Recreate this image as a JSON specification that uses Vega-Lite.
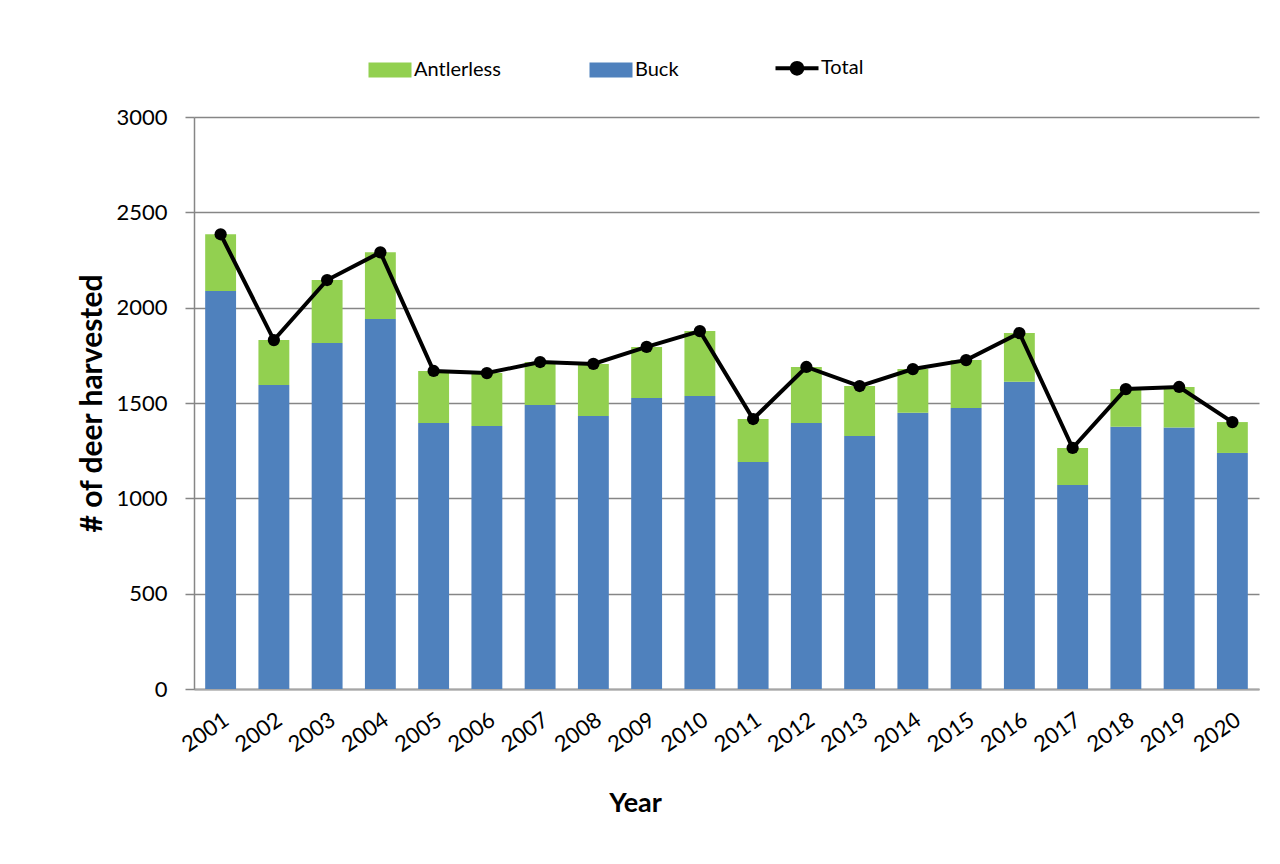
{
  "$schema": "https://vega.github.io/schema/vega-lite/v6.json",
  "width": 1065,
  "height": 572,
  "autosize": {"type": "none"},
  "padding": {"left": 194, "top": 117, "right": 21, "bottom": 175},
  "background": "white",
  "datasets": {
    "bars": [
      {"year": "2001", "type": "Buck", "count": 2088}, {"year": "2001", "type": "Antlerless", "count": 297},
      {"year": "2002", "type": "Buck", "count": 1594}, {"year": "2002", "type": "Antlerless", "count": 236},
      {"year": "2003", "type": "Buck", "count": 1815}, {"year": "2003", "type": "Antlerless", "count": 330},
      {"year": "2004", "type": "Buck", "count": 1940}, {"year": "2004", "type": "Antlerless", "count": 350},
      {"year": "2005", "type": "Buck", "count": 1395}, {"year": "2005", "type": "Antlerless", "count": 273},
      {"year": "2006", "type": "Buck", "count": 1379}, {"year": "2006", "type": "Antlerless", "count": 278},
      {"year": "2007", "type": "Buck", "count": 1490}, {"year": "2007", "type": "Antlerless", "count": 225},
      {"year": "2008", "type": "Buck", "count": 1432}, {"year": "2008", "type": "Antlerless", "count": 273},
      {"year": "2009", "type": "Buck", "count": 1526}, {"year": "2009", "type": "Antlerless", "count": 268},
      {"year": "2010", "type": "Buck", "count": 1537}, {"year": "2010", "type": "Antlerless", "count": 340},
      {"year": "2011", "type": "Buck", "count": 1190}, {"year": "2011", "type": "Antlerless", "count": 226},
      {"year": "2012", "type": "Buck", "count": 1395}, {"year": "2012", "type": "Antlerless", "count": 294},
      {"year": "2013", "type": "Buck", "count": 1327}, {"year": "2013", "type": "Antlerless", "count": 262},
      {"year": "2014", "type": "Buck", "count": 1449}, {"year": "2014", "type": "Antlerless", "count": 229},
      {"year": "2015", "type": "Buck", "count": 1474}, {"year": "2015", "type": "Antlerless", "count": 251},
      {"year": "2016", "type": "Buck", "count": 1611}, {"year": "2016", "type": "Antlerless", "count": 256},
      {"year": "2017", "type": "Buck", "count": 1070}, {"year": "2017", "type": "Antlerless", "count": 194},
      {"year": "2018", "type": "Buck", "count": 1375}, {"year": "2018", "type": "Antlerless", "count": 198},
      {"year": "2019", "type": "Buck", "count": 1372}, {"year": "2019", "type": "Antlerless", "count": 212},
      {"year": "2020", "type": "Buck", "count": 1238}, {"year": "2020", "type": "Antlerless", "count": 162}
    ],
    "totals": [
      {"year": "2001", "total": 2385}, {"year": "2002", "total": 1830}, {"year": "2003", "total": 2145},
      {"year": "2004", "total": 2290}, {"year": "2005", "total": 1668}, {"year": "2006", "total": 1657},
      {"year": "2007", "total": 1715}, {"year": "2008", "total": 1705}, {"year": "2009", "total": 1794},
      {"year": "2010", "total": 1877}, {"year": "2011", "total": 1416}, {"year": "2012", "total": 1689},
      {"year": "2013", "total": 1589}, {"year": "2014", "total": 1678}, {"year": "2015", "total": 1725},
      {"year": "2016", "total": 1867}, {"year": "2017", "total": 1264}, {"year": "2018", "total": 1573},
      {"year": "2019", "total": 1584}, {"year": "2020", "total": 1400}
    ]
  },
  "encoding": {
    "x": {
      "field": "year", "type": "nominal",
      "scale": {"paddingInner": 0.42, "paddingOuter": 0.21},
      "axis": {
        "title": "Year", "labelAngle": -35, "labelFontSize": 22, "labelPadding": 20,
        "ticks": false, "titleFontSize": 27, "titleFontWeight": "bold", "titlePadding": 35,
        "titleX": 441,
        "domainColor": "#a6a6a6", "domainWidth": 2, "labelColor": "#000000", "titleColor": "#000000"
      }
    }
  },
  "layer": [
    {
      "data": {"name": "bars"},
      "mark": {"type": "bar"},
      "encoding": {
        "y": {
          "field": "count", "type": "quantitative", "stack": "zero",
          "scale": {"domain": [0, 3000]},
          "axis": {
            "title": "# of deer harvested", "values": [0, 500, 1000, 1500, 2000, 2500, 3000], "format": "d",
            "labelFontSize": 22, "labelPadding": 18, "tickSize": 9, "tickColor": "#868686", "tickWidth": 1.5,
            "gridColor": "#868686", "gridWidth": 1.5, "domainColor": "#868686", "domainWidth": 1.5,
            "titleFontSize": 30, "titleFontWeight": "bold", "titlePadding": 8,
            "labelColor": "#000000", "titleColor": "#000000"
          }
        },
        "color": {
          "field": "type", "type": "nominal",
          "scale": {"domain": ["Antlerless", "Buck", "Total"], "range": ["#92D050", "#4F81BD", "#000000"]},
          "legend": {
            "orient": "none", "direction": "horizontal", "columns": 3, "title": null,
            "legendX": 186, "legendY": -59,
            "symbolSize": 1849, "labelFontSize": 20, "labelOffset": 14, "columnPadding": 88,
            "labelColor": "#000000",
            "symbolType": "M-1,-0.35H1V0.35H-1Z",
            "encode": {
              "symbols": {
                "update": {
                  "shape": {"signal": "datum.value === 'Total' ? 'M-1,0H1M-0.25,0A0.25,0.25 0 1,0 0.25,0A0.25,0.25 0 1,0 -0.25,0Z' : 'M-1,-0.35H1V0.35H-1Z'"},
                  "fill": {"signal": "scale('color', datum.value)"},
                  "stroke": {"signal": "scale('color', datum.value)"},
                  "strokeWidth": {"signal": "datum.value === 'Total' ? 4 : 0"},
                  "opacity": {"value": 1},
                  "fillOpacity": {"value": 1}
                }
              }
            }
          }
        },
        "order": {"field": "type", "sort": "descending"}
      }
    },
    {
      "data": {"name": "totals"},
      "mark": {"type": "line", "color": "#000000", "strokeWidth": 4},
      "encoding": {
        "y": {"field": "total", "type": "quantitative"},
        "color": {"datum": "Total"}
      }
    },
    {
      "data": {"name": "totals"},
      "mark": {"type": "point", "filled": true, "size": 150, "opacity": 1, "color": "#000000"},
      "encoding": {
        "y": {"field": "total", "type": "quantitative"},
        "color": {"datum": "Total"}
      }
    }
  ],
  "config": {
    "font": "Lato",
    "view": {"stroke": null},
    "axis": {"labelFont": "Lato", "titleFont": "Lato"},
    "legend": {"labelFont": "Lato"}
  }
}
